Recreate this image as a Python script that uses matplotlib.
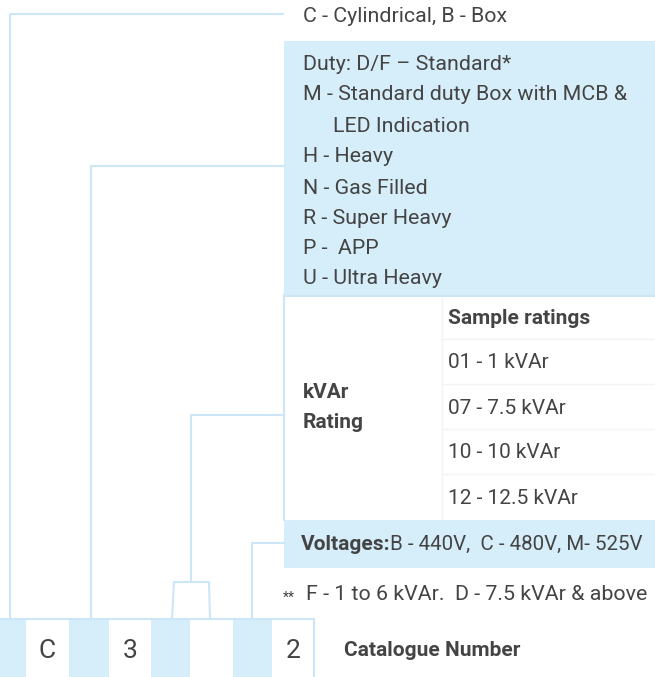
import matplotlib.pyplot as plt
from matplotlib.patches import Rectangle

plt.rcParams['font.family'] = ['Roboto', 'DejaVu Sans']

# Data: texts of the catalogue-number legend
type_text = "C - Cylindrical, B - Box"
duty_lines = ["Duty: D/F \u2013 Standard*",
              "M - Standard duty Box with MCB &",
              "LED Indication",
              "H - Heavy",
              "N - Gas Filled",
              "R - Super Heavy",
              "P -  APP",
              "U - Ultra Heavy"]
duty_indent = [0, 0, 30, 0, 0, 0, 0, 0]
rating_label = ["kVAr", "Rating"]
rating_header = "Sample ratings"
ratings = ["01 - 1 kVAr", "07 - 7.5 kVAr", "10 - 10 kVAr", "12 - 12.5 kVAr"]
volt_label = "Voltages:"
volt_text = "B - 440V,  C - 480V, M- 525V"
footnote = "F - 1 to 6 kVAr.  D - 7.5 kVAr & above"
cells = ["", "C", "", "3", "", "", "", "2"]
cell_edges = [0, 26, 69, 109, 151, 190, 233, 272, 314]
title = "Catalogue Number"

W, H = 655, 677
blue = '#d6edfa'
line = '#cce6f7'
txt = '#444444'

fig = plt.figure(figsize=(W / 100, H / 100), dpi=100)
ax = fig.add_axes([0, 0, 1, 1])
ax.set_xlim(0, W)
ax.set_ylim(H, 0)
ax.axis('off')

# duty box
ax.add_patch(Rectangle((284, 41), W - 284, 254, fc=blue, ec='none'))
# kVAr box
ax.plot([284, 284], [295, 520], color=line, lw=1.5)
ax.plot([284, W], [296, 296], color=line, lw=1.5)
ax.plot([442, 442], [297, 520], color='#f3f3f3', lw=1)
for yy in [339, 384, 429, 474]:
    ax.plot([442, W], [yy, yy], color='#f3f3f3', lw=1)
# voltages box
ax.add_patch(Rectangle((284, 520), W - 284, 48, fc=blue, ec='none'))

# connector lines
ax.plot([10, 10, 283], [619, 14, 14], color=line, lw=1.5)
ax.plot([91, 91, 284], [619, 166, 166], color=line, lw=1.5)
ax.plot([284, 191, 191], [415, 415, 582], color=line, lw=1.5)
ax.plot([172, 174, 191, 209, 210], [619, 582, 582, 582, 619], color=line, lw=1.5)
ax.plot([284, 252, 252], [543, 543, 619], color=line, lw=1.5)

# catalogue cells
for i, c in enumerate(cells):
    x0, x1 = cell_edges[i], cell_edges[i + 1]
    if i % 2 == 0:
        ax.add_patch(Rectangle((x0, 619), x1 - x0, H - 619, fc=blue, ec='none'))
    else:
        ax.text((x0 + x1) / 2, 651, c, fontsize=19, color=txt, ha='center', va='center')
ax.plot([0, 314, 314], [619, 619, H], color=line, lw=1.5)

fs = 15.4
fb = 15
ax.text(303, 17, type_text, fontsize=fs, color=txt, va='center')
duty_y = [65, 95, 126, 157, 188, 218, 249, 279]
for s, dx, yy in zip(duty_lines, duty_indent, duty_y):
    ax.text(303 + dx, yy, s, fontsize=fs, color=txt, va='center')

ax.text(303, 392, rating_label[0], fontsize=fb, color=txt, va='center', weight='bold')
ax.text(303, 422, rating_label[1], fontsize=fb, color=txt, va='center', weight='bold')
ax.text(448, 319, rating_header, fontsize=fb, color=txt, va='center', weight='bold')
for s, yy in zip(ratings, [363, 409, 453, 499]):
    ax.text(448, yy, s, fontsize=fb, color=txt, va='center')

t = ax.text(301, 544, volt_label, fontsize=fb, color=txt, va='center', weight='bold')
fig.canvas.draw()
bb = t.get_window_extent()
x_end = ax.transData.inverted().transform((bb.x1, bb.y0))[0]
ax.text(x_end, 544, volt_text, fontsize=14.8, color=txt, va='center')

ax.text(283, 598, "**", fontsize=10, color=txt, va='center')
ax.text(306, 595, footnote, fontsize=fs, color=txt, va='center')

ax.text(344, 651, title, fontsize=fb, color=txt, va='center', weight='bold')

fig.savefig('out.png', dpi=100)
